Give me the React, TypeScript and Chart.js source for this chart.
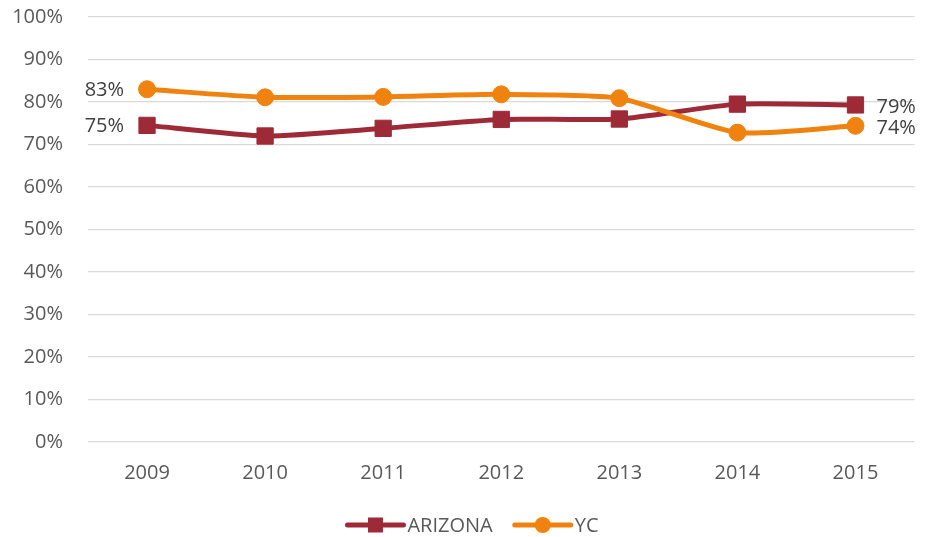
import React, { useEffect, useRef } from 'react';
import { Chart, registerables } from 'chart.js';

Chart.register(...registerables);

const years = ['2009', '2010', '2011', '2012', '2013', '2014', '2015'];
const arizona = [74.5, 72.0, 73.8, 75.9, 76.0, 79.5, 79.3];
const yc = [83.0, 81.1, 81.2, 81.8, 80.9, 72.8, 74.4];
const seriesNames = ['ARIZONA', 'YC'];
const seriesColors = ['#9E2A38', '#F0820F'];
const seriesMarkers = ['rect', 'circle'];

const FONT = "'Open Sans', 'Noto Sans', sans-serif";

const labelsPlugin = {
  id: 'endLabels',
  afterDatasetsDraw(chart: any) {
    const ctx = chart.ctx;
    ctx.save();
    ctx.font = `20px ${FONT}`;
    ctx.fillStyle = '#404040';
    ctx.textBaseline = 'middle';
    chart.data.datasets.forEach((ds: any, i: number) => {
      const meta = chart.getDatasetMeta(i);
      const first = meta.data[0];
      const last = meta.data[meta.data.length - 1];
      const v0 = ds.data[0];
      const vN = ds.data[ds.data.length - 1];
      ctx.textAlign = 'right';
      ctx.fillText(`${Math.round(v0)}%`, first.x - 23, first.y + 1);
      ctx.textAlign = 'left';
      ctx.fillText(`${Math.round(vN)}%`, last.x + 21, last.y + 2);
    });
    ctx.restore();
  },
};

const legendPlugin = {
  id: 'customLegend',
  afterDraw(chart: any) {
    const ctx = chart.ctx;
    ctx.save();
    ctx.font = `20px ${FONT}`;
    const lineLen = 56;
    const gapText = 4;
    const gapItem = 22;
    const widths = seriesNames.map((n) => ctx.measureText(n).width);
    const total = widths.reduce((a, w) => a + lineLen + gapText + w, 0) + gapItem * (seriesNames.length - 1);
    let x = 473 - total / 2;
    const y = 525;
    seriesNames.forEach((name, i) => {
      const color = seriesColors[i];
      ctx.strokeStyle = color;
      ctx.lineWidth = 5;
      ctx.lineCap = 'round';
      ctx.beginPath();
      ctx.moveTo(x, y);
      ctx.lineTo(x + lineLen, y);
      ctx.stroke();
      ctx.fillStyle = color;
      const cx = x + lineLen / 2;
      if (seriesMarkers[i] === 'rect') {
        ctx.fillRect(cx - 7.5, y - 7.5, 15, 15);
      } else {
        ctx.beginPath();
        ctx.arc(cx, y, 8, 0, Math.PI * 2);
        ctx.fill();
      }
      ctx.fillStyle = '#595959';
      ctx.textAlign = 'left';
      ctx.textBaseline = 'middle';
      ctx.fillText(name, x + lineLen + gapText, y + 1);
      x += lineLen + gapText + widths[i] + gapItem;
    });
    ctx.restore();
  },
};

export default function App() {
  const ref = useRef<HTMLCanvasElement>(null);
  useEffect(() => {
    if (!ref.current) return;
    const seriesData = [arizona, yc];
    const chart = new Chart(ref.current, {
      type: 'line',
      data: {
        labels: years,
        datasets: seriesNames.map((name, i) => ({
          label: name,
          data: seriesData[i],
          borderColor: seriesColors[i],
          backgroundColor: seriesColors[i],
          borderWidth: 5,
          pointStyle: seriesMarkers[i] as any,
          pointRadius: seriesMarkers[i] === 'rect' ? 11.5 : 8.5,
          pointBorderWidth: 1,
          pointBorderColor: seriesColors[i],
          pointBackgroundColor: seriesColors[i],
          tension: 0.2,
          order: i === 0 ? 1 : 0,
        })),
      },
      options: {
        responsive: false,
        animation: false,
        layout: { padding: { top: 17, right: 9, bottom: 55, left: 0 } },
        plugins: {
          legend: { display: false },
          tooltip: { enabled: false },
        },
        scales: {
          x: {
            offset: true,
            grid: { display: false, drawTicks: false },
            border: { display: false },
            ticks: { color: '#595959', font: { family: FONT, size: 20 }, padding: 19 },
            afterFit(scale: any) {
              scale.height = 40;
              scale.paddingLeft = 0;
              scale.paddingRight = 0;
            },
          },
          y: {
            min: 0,
            max: 100,
            ticks: {
              stepSize: 10,
              color: '#595959',
              font: { family: FONT, size: 20 },
              padding: 25,
              callback: (v: any) => `${v}%`,
            },
            grid: { color: '#D9D9D9', lineWidth: 1.3, drawTicks: false },
            border: { display: false },
            afterFit(scale: any) {
              scale.width = 88;
              scale.paddingTop = 0;
              scale.paddingBottom = 0;
            },
          },
        },
      },
      plugins: [labelsPlugin, legendPlugin],
    });
    return () => chart.destroy();
  }, []);
  return (
    <div style={{ position: 'absolute', left: 0, top: 0, width: 927, height: 537, background: '#fff' }}>
      <canvas ref={ref} width={927} height={537} />
    </div>
  );
}
